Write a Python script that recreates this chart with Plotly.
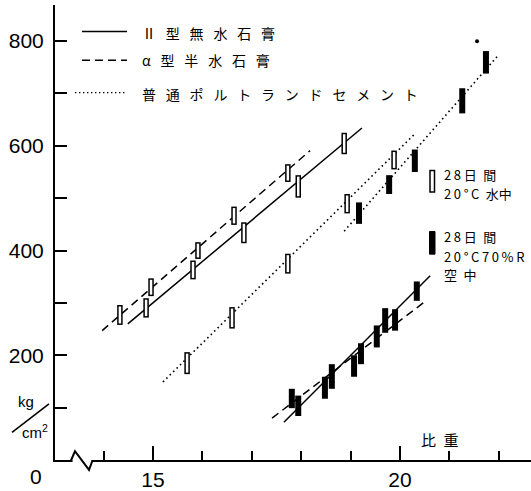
import plotly.graph_objects as go

# ---------------------------------------------------------------
# Compressive strength (kg/cm²) against specific gravity (比重)
# Each bar is the min–max range of a test group.
# ---------------------------------------------------------------

# 28 days, 20°C water curing (open bars)
anh_w_x = [14.86, 15.81, 16.84, 17.94, 18.87]      # II型無水石膏
anh_w_lo = [272, 345, 414, 501, 584]
anh_w_hi = [309, 381, 454, 544, 625]

hemi_w_x = [14.33, 14.96, 15.91, 16.64, 17.73]     # α型半水石膏
hemi_w_lo = [258, 313, 384, 449, 531]
hemi_w_hi = [296, 347, 416, 484, 565]

opc_w_x = [15.69, 16.60, 17.73, 18.93, 19.88]      # 普通ポルトランドセメント
opc_w_lo = [164, 251, 356, 471, 555]
opc_w_hi = [206, 292, 394, 508, 591]

# 28 days, 20°C 70%RH air curing (filled bars)
anh_a_x = [17.94, 18.62, 19.21, 19.70, 20.34]
anh_a_lo = [84, 136, 183, 243, 304]
anh_a_hi = [123, 183, 223, 290, 341]

hemi_a_x = [17.81, 18.48, 19.07, 19.53, 19.90]
hemi_a_lo = [99, 117, 159, 215, 247]
hemi_a_hi = [136, 159, 200, 257, 288]

opc_a_x = [19.17, 19.78, 20.30, 21.26, 21.74]
opc_a_lo = [451, 508, 550, 662, 738]
opc_a_hi = [492, 544, 593, 710, 781]

single_x = [21.56]
single_y = [800]

# fitted trend lines (end points)
anh_w_fit_x, anh_w_fit_y = [14.49, 19.23], [260, 634]
hemi_w_fit_x, hemi_w_fit_y = [13.97, 18.18], [247, 591]
opc_w_fit_x, opc_w_fit_y = [15.20, 20.28], [149, 621]
anh_a_fit_x, anh_a_fit_y = [17.65, 20.61], [72, 352]
hemi_a_fit_x, hemi_a_fit_y = [17.41, 20.47], [80, 300]
opc_a_fit_x, opc_a_fit_y = [18.87, 21.98], [437, 772]

# axis setup
X_RANGE = [13.016, 22.652]
Y_RANGE = [0, 869]
y_tick_vals = [200, 400, 600, 800]

W, H = 531, 491
ML, MR, MT, MB = 55, 0, 5, 24
PL, PR, PT, PB = ML, W - MR, MT, H - MB
Y_PER_PX = (Y_RANGE[1] - Y_RANGE[0]) / (PB - PT)


def px(x):
    return (x - PL) / (PR - PL)


def py(y):
    return (PB - y) / (PB - PT)


def segments(xs, lo, hi, inset=0.0):
    X, Y = [], []
    for x, a, b in zip(xs, lo, hi):
        X += [x, x, None]
        Y += [a + inset, b - inset, None]
    return X, Y


fig = go.Figure()

# trend lines
solid = dict(color="black", width=1.5)
dashed = dict(color="black", width=1.5, dash="8px,5px")
dotted = dict(color="black", width=1.6, dash="1.6px,3.2px")
for fx, fy, ln in [
    (anh_w_fit_x, anh_w_fit_y, solid),
    (hemi_w_fit_x, hemi_w_fit_y, dashed),
    (opc_w_fit_x, opc_w_fit_y, dotted),
    (anh_a_fit_x, anh_a_fit_y, solid),
    (hemi_a_fit_x, hemi_a_fit_y, dashed),
    (opc_a_fit_x, opc_a_fit_y, dotted),
]:
    fig.add_trace(go.Scatter(x=fx, y=fy, mode="lines", line=ln,
                             hoverinfo="skip", showlegend=False))

# open bars: black outline with white core
ow_x = anh_w_x + hemi_w_x + opc_w_x
ow_lo = anh_w_lo + hemi_w_lo + opc_w_lo
ow_hi = anh_w_hi + hemi_w_hi + opc_w_hi
bx, by = segments(ow_x, ow_lo, ow_hi)
fig.add_trace(go.Scatter(x=bx, y=by, mode="lines",
                         line=dict(color="black", width=5.5),
                         hoverinfo="skip", showlegend=False))
bx, by = segments(ow_x, ow_lo, ow_hi, inset=1.5 * Y_PER_PX)
fig.add_trace(go.Scatter(x=bx, y=by, mode="lines",
                         line=dict(color="white", width=2.5),
                         hoverinfo="skip", showlegend=False))

# filled bars
fa_x = anh_a_x + hemi_a_x + opc_a_x
fa_lo = anh_a_lo + hemi_a_lo + opc_a_lo
fa_hi = anh_a_hi + hemi_a_hi + opc_a_hi
bx, by = segments(fa_x, fa_lo, fa_hi)
fig.add_trace(go.Scatter(x=bx, y=by, mode="lines",
                         line=dict(color="black", width=6),
                         hoverinfo="skip", showlegend=False))
fig.add_trace(go.Scatter(x=single_x, y=single_y, mode="markers",
                         marker=dict(color="black", size=4),
                         hoverinfo="skip", showlegend=False))

shapes = []
# broken x-axis mark
shapes.append(dict(type="rect", xref="paper", yref="paper", layer="above",
                   x0=px(72.5), x1=px(91.5), y0=py(471), y1=py(463),
                   fillcolor="white", line=dict(width=0)))
zig = [(71, 467.5), (75, 458), (89, 477), (92.5, 467.5)]
path = "M " + " L ".join(f"{px(a):.5f},{py(b):.5f}" for a, b in zig)
shapes.append(dict(type="path", xref="paper", yref="paper", layer="above",
                   path=path, line=dict(color="black", width=2)))

# line-style key
shapes.append(dict(type="line", xref="paper", yref="paper",
                   x0=px(82), x1=px(127), y0=py(32), y1=py(32),
                   line=dict(color="black", width=1.5)))
shapes.append(dict(type="line", xref="paper", yref="paper",
                   x0=px(82), x1=px(127), y0=py(61), y1=py(61),
                   line=dict(color="black", width=1.5, dash="8px,5px")))
shapes.append(dict(type="line", xref="paper", yref="paper",
                   x0=px(75), x1=px(127), y0=py(94), y1=py(94),
                   line=dict(color="black", width=1.4, dash="1.4px,2.6px")))

# curing key symbols
shapes.append(dict(type="rect", xref="paper", yref="paper",
                   x0=px(430), x1=px(434.5), y0=py(195), y1=py(173),
                   fillcolor="white", line=dict(color="black", width=1.5)))
shapes.append(dict(type="rect", xref="paper", yref="paper",
                   x0=px(429.5), x1=px(435), y0=py(258), y1=py(235),
                   fillcolor="black", line=dict(color="black", width=1)))

# unit slash
shapes.append(dict(type="line", xref="paper", yref="paper",
                   x0=px(12), x1=px(49), y0=py(439), y1=py(410),
                   line=dict(color="black", width=1.6)))

JP = "Noto Sans CJK JP"
SANS = "Liberation Sans"
SP = "\u2002\u2009"
TH = "\u2009"


def note(text, x, y, size, family=JP, anchor="left"):
    return dict(text=text, xref="paper", yref="paper", x=px(x), y=py(y),
                xanchor=anchor, yanchor="middle", showarrow=False,
                font=dict(family=family, size=size, color="black"))


annotations = [
    note(SP.join("Ⅱ型無水石膏"), 140, 33, 14),
    note(SP.join("α型半水石膏"), 140, 61, 14),
    note(SP.join("普通ポルトランドセメント"), 140, 95, 14),
    note(TH.join("28日") + "\u2002間", 442, 177, 13),
    note(TH.join("20°C") + "\u2002水中", 442, 196, 13),
    note(TH.join("28日") + "\u2002間", 442, 240, 13),
    note(TH.join("20°C70%R"), 442, 260, 13),
    note("空\u2002中", 442, 279, 13),
    note("比\u2002重", 419, 446, 15),
    note("kg", 26, 408, 15, SANS, "center"),
    note("cm<sup>2</sup>", 35, 438, 15, SANS, "center"),
    note("0", 36, 484, 21, SANS, "center"),
]

fig.update_layout(
    width=W, height=H,
    margin=dict(l=ML, r=MR, t=MT, b=MB, pad=0),
    paper_bgcolor="white", plot_bgcolor="white",
    showlegend=False,
    shapes=shapes, annotations=annotations,
    font=dict(family=SANS, color="black"),
    xaxis=dict(range=X_RANGE, showgrid=False, zeroline=False,
               showline=True, linecolor="black", linewidth=2,
               tickmode="linear", tick0=0, dtick=5,
               ticks="inside", ticklen=14, tickwidth=1.5, tickcolor="black",
               tickfont=dict(family=SANS, size=21),
               minor=dict(tick0=0, dtick=1, ticks="inside", ticklen=9,
                          tickwidth=1.5, tickcolor="black", showgrid=False)),
    yaxis=dict(range=Y_RANGE, showgrid=False, zeroline=False,
               showline=True, linecolor="black", linewidth=2,
               tickmode="array", tickvals=y_tick_vals,
               ticks="inside", ticklen=12, tickwidth=1.5, tickcolor="black",
               ticklabelstandoff=5,
               tickfont=dict(family=SANS, size=21),
               minor=dict(tickmode="linear", tick0=100, dtick=200,
                          ticks="inside", ticklen=12,
                          tickwidth=1.5, tickcolor="black", showgrid=False)),
)

fig.write_html("out.html")
